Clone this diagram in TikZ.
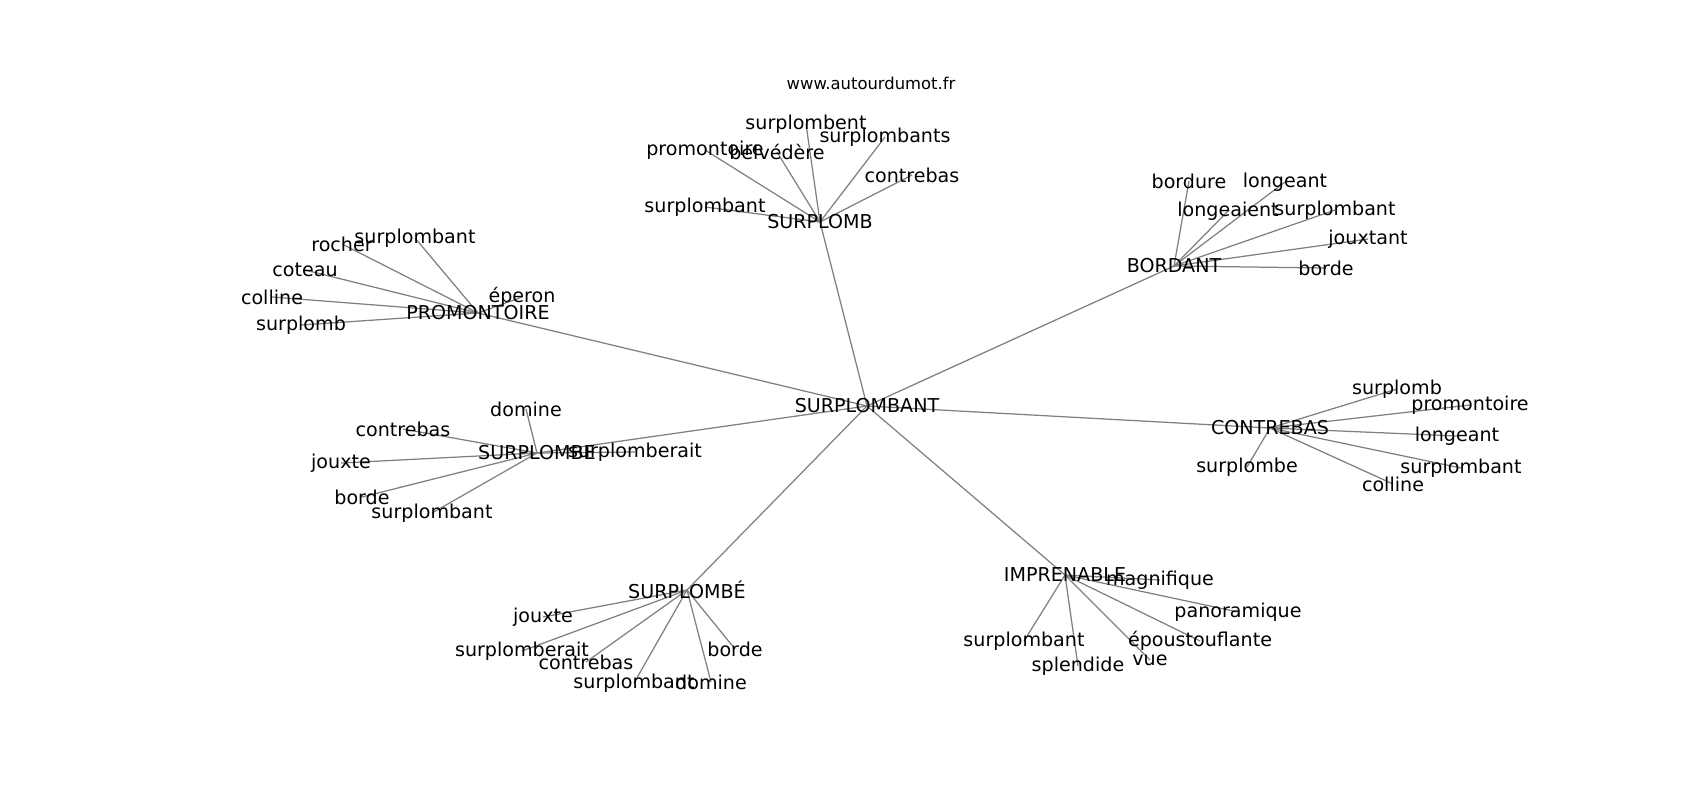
\documentclass[tikz,border=0pt]{standalone}
\usepackage{fontspec}
\setmainfont{DejaVu Sans}
\usetikzlibrary{backgrounds}
\tikzset{
  lbl/.style={inner sep=0pt, outer sep=0pt, anchor=center, font=\fontsize{13.75}{16}\selectfont, text=black},
  url/.style={inner sep=0pt, anchor=center, font=\fontsize{11.8}{14}\selectfont, text=black},
  edge/.style={draw=gray, line width=0.9pt}
}
\begin{document}
\begin{tikzpicture}[x=0.72pt, y=-0.72pt]
\useasboundingbox (0,0) rectangle (1700,800);
\node[url] (u) at (871,83) {www.autourdumot.fr};
% center
\node[lbl] (c) at (867,406) {SURPLOMBANT};
% PROMONTOIRE
\node[lbl] (p) at (478,313) {PROMONTOIRE};
\node[lbl] (p1) at (342,244) {rocher};
\node[lbl] (p2) at (415,238) {surplombant};
\node[lbl] (p3) at (305,270) {coteau};
\node[lbl] (p4) at (272,297) {colline};
\node[lbl] (p5) at (301,325) {surplomb};
\node[lbl] (p6) at (522,297) {éperon};
% SURPLOMB
\node[lbl] (s) at (820,222) {SURPLOMB};
\node[lbl] (s1) at (806,124) {surplombent};
\node[lbl] (s2) at (705,150) {promontoire};
\node[lbl] (s3) at (777,152) {belvédère};
\node[lbl] (s4) at (885,137) {surplombants};
\node[lbl] (s5) at (912,175) {contrebas};
\node[lbl] (s6) at (705,207) {surplombant};
% BORDANT
\node[lbl] (b) at (1174,266) {BORDANT};
\node[lbl] (b1) at (1189,181) {bordure};
\node[lbl] (b2) at (1285,182) {longeant};
\node[lbl] (b3) at (1228,211) {longeaient};
\node[lbl] (b4) at (1335,210) {surplombant};
\node[lbl] (b5) at (1368,239) {jouxtant};
\node[lbl] (b6) at (1326,268) {borde};
% CONTREBAS
\node[lbl] (k) at (1270,428) {CONTREBAS};
\node[lbl] (k1) at (1397,389) {surplomb};
\node[lbl] (k2) at (1470,405) {promontoire};
\node[lbl] (k3) at (1457,436) {longeant};
\node[lbl] (k4) at (1461,468) {surplombant};
\node[lbl] (k5) at (1393,484) {colline};
\node[lbl] (k6) at (1247,467) {surplombe};
% SURPLOMBE
\node[lbl] (e) at (537,453) {SURPLOMBE};
\node[lbl] (e1) at (635,452) {surplomberait};
\node[lbl] (e2) at (526,409) {domine};
\node[lbl] (e3) at (403,429) {contrebas};
\node[lbl] (e4) at (341,463) {jouxte};
\node[lbl] (e5) at (362,497) {borde};
\node[lbl] (e6) at (432,513) {surplombant};
% SURPLOMBÉ
\node[lbl] (f) at (687,590) {SURPLOMBÉ};
\node[lbl] (f1) at (543,617) {jouxte};
\node[lbl] (f2) at (522,651) {surplomberait};
\node[lbl] (f3) at (586,662) {contrebas};
\node[lbl] (f4) at (634,683) {surplombant};
\node[lbl] (f5) at (711,682) {domine};
\node[lbl] (f6) at (735,649) {borde};
% IMPRENABLE
\node[lbl] (i) at (1065,575) {IMPRENABLE};
\node[lbl] (i1) at (1160,580) {magnifique};
\node[lbl] (i2) at (1238,612) {panoramique};
\node[lbl] (i3) at (1024,641) {surplombant};
\node[lbl] (i4) at (1078,666) {splendide};
\node[lbl] (i5) at (1200,641) {époustouflante};
\node[lbl] (i6) at (1150,660) {vue};
\begin{scope}[on background layer]
\foreach \h in {p,s,b,k,e,f,i} \draw[edge] (c.center) -- (\h.center);
\foreach \n in {1,...,6} {
  \draw[edge] (p.center) -- (p\n.center);
  \draw[edge] (s.center) -- (s\n.center);
  \draw[edge] (b.center) -- (b\n.center);
  \draw[edge] (k.center) -- (k\n.center);
  \draw[edge] (e.center) -- (e\n.center);
  \draw[edge] (f.center) -- (f\n.center);
  \draw[edge] (i.center) -- (i\n.center);
}
\end{scope}
\end{tikzpicture}
\end{document}
